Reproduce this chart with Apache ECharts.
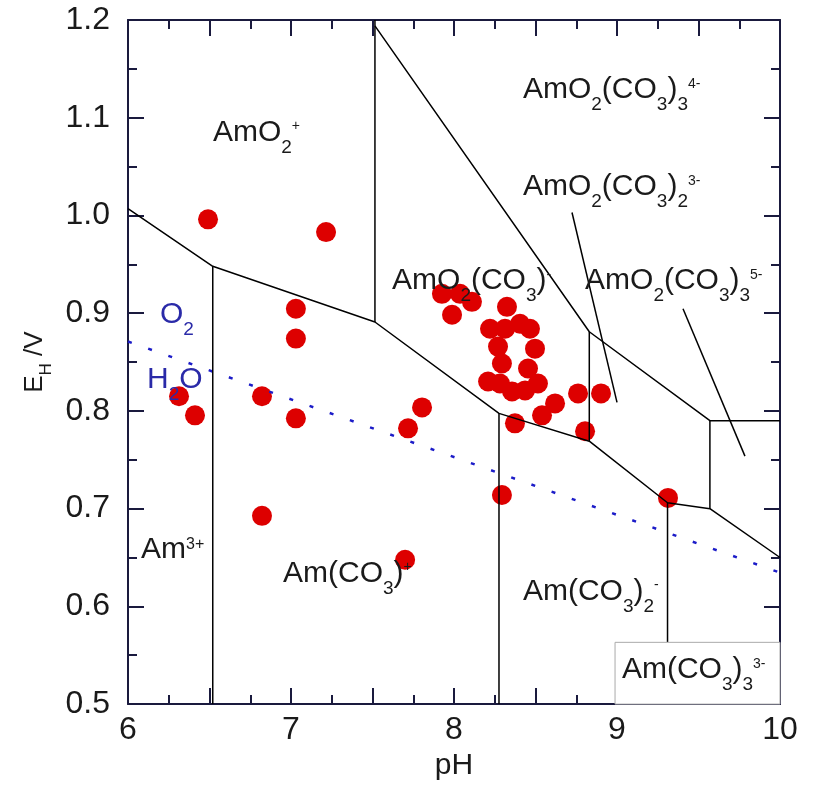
<!DOCTYPE html>
<html><head><meta charset="utf-8">
<script src="https://cdn.jsdelivr.net/npm/echarts@6/dist/echarts.min.js"></script>
<style>html,body{margin:0;padding:0;background:#fff}#c{width:815px;height:786px}</style>
</head><body><div id="c"></div>
<script>
// ---- data ----
const xTickLabels = [6, 7, 8, 9, 10];
const yTickLabels = [0.5, 0.6, 0.7, 0.8, 0.9, 1.0, 1.1, 1.2];

// measured red points
const dotPH = [6.491, 7.215, 7.03, 7.03, 6.313, 6.411, 6.822, 7.03, 6.822, 7.70, 7.718, 7.804, 8.294, 9.313,
  7.926, 8.037, 8.11, 7.988,
  8.325, 8.221, 8.313, 8.405, 8.466, 8.497, 8.270, 8.294, 8.209, 8.282, 8.356, 8.436, 8.515, 8.454,
  8.374, 8.540, 8.620, 8.761, 8.902, 8.804];
const dotE = [0.996, 0.983, 0.9045, 0.874, 0.815, 0.7955, 0.815, 0.7924, 0.6926, 0.6477, 0.7822, 0.8036, 0.714, 0.711,
  0.9198, 0.9198, 0.9116, 0.8984,
  0.9065, 0.8841, 0.8841, 0.8892, 0.8841, 0.8637, 0.8658, 0.8485, 0.8301, 0.8281, 0.8199, 0.8210, 0.8281, 0.8434,
  0.7873, 0.7955, 0.8077, 0.8179, 0.8179, 0.7792];

// phase boundaries (pH, E)
const redoxPH = [6, 6.52, 7.515, 8.276, 8.83, 9.31, 9.57, 10];
const redoxE  = [1.007, 0.948, 0.891, 0.7975, 0.769, 0.706, 0.700, 0.650];
const diagPH = [7.515, 8.83, 9.57, 10];
const diagE  = [1.194, 0.881, 0.790, 0.790];
const vertPH  = [6.52, 7.515, 8.276, 8.83, 9.57, 9.31];
const vertTop = [0.948, 1.2, 0.7975, 0.881, 0.790, 0.706];
const vertBot = [0.5, 0.891, 0.5, 0.769, 0.700, 0.5632];
const ptrPH0 = [8.724, 9.405], ptrE0 = [1.003, 0.9045];
const ptrPH1 = [9.0, 9.785],  ptrE1 = [0.8087, 0.7537];
const waterPH = [6, 10];
const waterE  = [0.871, 0.6345];

// species labels
const labelPH = [6.521, 8.423, 8.423, 7.62, 8.804, 6.08, 6.951, 8.423, 9.03];
const labelE  = [1.085, 1.1287, 1.0293, 0.933, 0.933, 0.658, 0.6335, 0.6151, 0.535];
const labelText = [
  '{n|AmO}{sb|2}{sp|+}',
  '{n|AmO}{sb|2}{n|(CO}{sb|3}{n|)}{sb|3}{sp|4-}',
  '{n|AmO}{sb|2}{n|(CO}{sb|3}{n|)}{sb|2}{sp|3-}',
  '{n|AmO}{sb|2}{n|(CO}{sb|3}{n|)}{sp|-}',
  '{n|AmO}{sb|2}{n|(CO}{sb|3}{n|)}{sb|3}{sp|5-}',
  '{n|Am}{sq|3+}',
  '{n|Am(CO}{sb|3}{n|)}{sp|+}',
  '{n|Am(CO}{sb|3}{n|)}{sb|2}{sp|-}',
  '{n|Am(CO}{sb|3}{n|)}{sb|3}{sp|3-}'
];
const waterLabelPH = [6.196, 6.117];
const waterLabelE  = [0.8984, 0.8322];
const waterLabelText = ['{b|O}{bs|2}', '{b|H}{bs|2}{b|O}'];
// box around Am(CO3)3 3- label
const boxPH = [8.988, 10], boxE = [0.5632, 0.5];

// ---- chart ----
const FONT = '"Liberation Sans", Arial, Helvetica, sans-serif';
const AX = '#1a1a3e';
const INK = '#1a1a1a';
const BLUE = '#2a2aa8';
const rich = {
  n:  {fontSize: 30, color: INK, fontFamily: FONT},
  sb: {fontSize: 19, color: INK, fontFamily: FONT, padding: [30, 0, 0, 0]},
  sp: {fontSize: 14, color: INK, fontFamily: FONT, padding: [0, 0, 12, 0]},
  sq: {fontSize: 16, color: INK, fontFamily: FONT, padding: [0, 0, 10, 0]},
  b:  {fontSize: 30, color: BLUE, fontFamily: FONT},
  bs: {fontSize: 19, color: BLUE, fontFamily: FONT, padding: [30, 0, 0, 0]}
};
const zip = (a, b) => a.map((v, i) => [v, b[i]]);
const lineSeries = (data, extra) => Object.assign({
  type: 'line', data, symbol: 'none', silent: true, animation: false, z: 4,
  lineStyle: {color: '#000', width: 1.5}
}, extra || {});

const series = [];
series.push({
  type: 'scatter', data: zip(dotPH, dotE), symbol: 'circle', symbolSize: 20,
  itemStyle: {color: '#dd0000', opacity: 1}, z: 2, animation: false, silent: true
});
series.push(lineSeries(zip(waterPH, waterE), {
  lineStyle: {color: '#1c1cc8', width: 2.5, type: [4, 17.4]}, z: 3
}));
series.push(lineSeries(zip(redoxPH, redoxE)));
series.push(lineSeries(zip(diagPH, diagE)));
vertPH.forEach((p, i) => series.push(lineSeries([[p, vertTop[i]], [p, vertBot[i]]])));
ptrPH0.forEach((p, i) => series.push(lineSeries([[p, ptrE0[i]], [ptrPH1[i], ptrE1[i]]])));
series.push({
  type: 'scatter', symbolSize: 0, z: 6, animation: false, silent: true,
  itemStyle: {opacity: 1},
  data: labelPH.map((p, i) => ({value: [p, labelE[i]], label: {formatter: labelText[i]}})),
  label: {show: true, position: 'right', distance: 0, opacity: 1, rich},
  markArea: {
    silent: true, z: 5,
    itemStyle: {color: '#fff', borderColor: '#aaaaaa', borderWidth: 1, opacity: 1},
    data: [[{coord: [boxPH[0], boxE[0]]}, {coord: [boxPH[1], boxE[1]]}]]
  }
});
series.push({
  type: 'scatter', symbolSize: 0, z: 6, animation: false, silent: true,
  itemStyle: {opacity: 1},
  data: waterLabelPH.map((p, i) => ({value: [p, waterLabelE[i]], label: {formatter: waterLabelText[i]}})),
  label: {show: true, position: 'right', distance: 0, opacity: 1, rich}
});

const tickStyle = {color: AX, width: 2};
const baseX = {
  type: 'value', min: 6, max: 10, interval: 0.5,
  axisLine: {show: true, lineStyle: {color: AX, width: 2}},
  axisTick: {show: true, inside: true, length: 16, lineStyle: tickStyle},
  minorTick: {show: true, splitNumber: 2, length: 9, lineStyle: tickStyle},
  splitLine: {show: false}
};
const baseY = {
  type: 'value', min: 0.5, max: 1.2, interval: 0.1,
  axisLine: {show: true, lineStyle: {color: AX, width: 2}},
  axisTick: {show: true, inside: true, length: 16, lineStyle: tickStyle},
  minorTick: {show: true, splitNumber: 2, length: 9, lineStyle: tickStyle},
  splitLine: {show: false}
};

const chart = echarts.init(document.getElementById('c'), null, {renderer: 'canvas'});
chart.setOption({
  backgroundColor: '#fff',
  animation: false,
  grid: {left: 128, right: 35, top: 20, bottom: 79, containLabel: false},
  xAxis: [
    Object.assign({}, baseX, {
      position: 'bottom',
      name: 'pH', nameLocation: 'middle', nameGap: 44,
      nameTextStyle: {fontSize: 30, color: INK, fontFamily: FONT},
      axisLabel: {fontSize: 32, color: INK, fontFamily: FONT, margin: 10,
        formatter: v => xTickLabels.includes(Math.round(v * 1000) / 1000) ? String(Math.round(v)) : ''}
    }),
    Object.assign({}, baseX, {position: 'top', axisLabel: {show: false}})
  ],
  yAxis: [
    Object.assign({}, baseY, {
      position: 'left',
      name: '{n|E}{s|H}{n| /V}', nameLocation: 'middle', nameGap: 72, nameRotate: 90,
      nameTextStyle: {rich: {
        n: {fontSize: 26, color: INK, fontFamily: FONT},
        s: {fontSize: 17, color: INK, fontFamily: FONT, padding: [22, 0, 0, 0]}
      }},
      axisLabel: {fontSize: 32, color: INK, fontFamily: FONT, margin: 18,
        formatter: v => {
          const r = Math.round(v * 10) / 10;
          return yTickLabels.includes(r) ? r.toFixed(1) : '';
        }}
    }),
    Object.assign({}, baseY, {position: 'right', axisLabel: {show: false}})
  ],
  series
});
</script>
</body></html>
